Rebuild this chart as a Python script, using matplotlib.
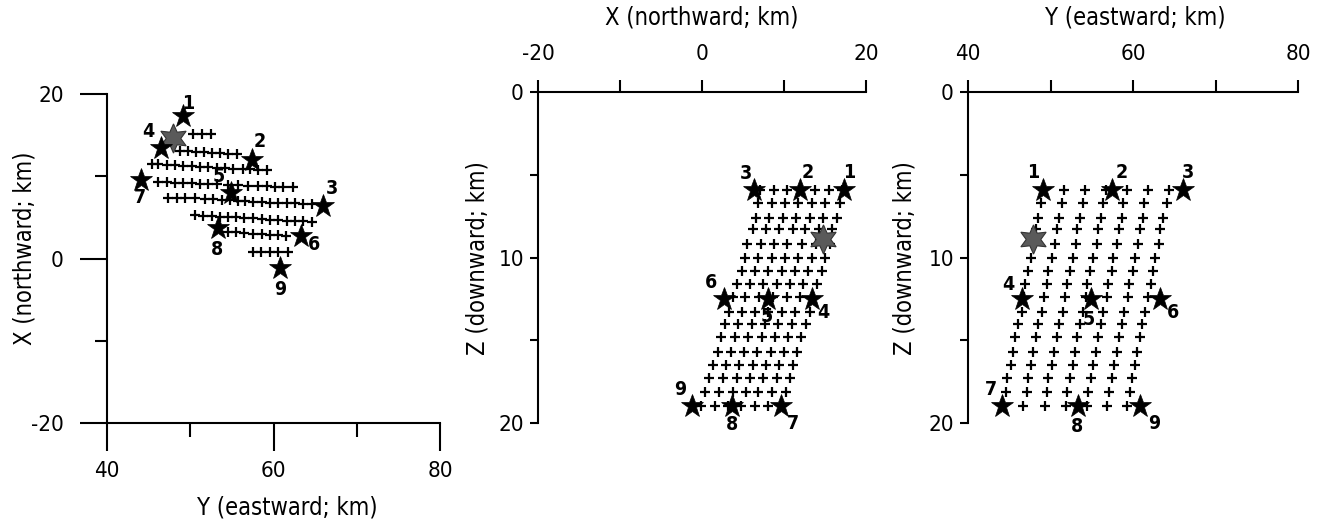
import matplotlib
matplotlib.use("Agg")
import matplotlib.pyplot as plt
from matplotlib import font_manager
from matplotlib.ticker import FixedLocator

# ---------------- data ----------------
star_ids = ["1", "2", "3", "4", "5", "6", "7", "8", "9"]
star_X = [17.3, 12.0, 6.4, 13.4, 8.0, 2.7, 9.6, 3.7, -1.2]     # northward km
star_Y = [49.1, 57.4, 66.0, 46.5, 54.9, 63.3, 44.1, 53.3, 60.8]  # eastward km
star_Z = [5.9, 5.9, 5.9, 12.5, 12.5, 12.5, 19.0, 19.0, 19.0]     # downward km

hypo_X = 14.7
hypo_Y = 47.9
hypo_Z = 8.9

# map-view crosses (Y, X) read line by line
map_cross_Y = [
    [50.3, 51.4, 52.5],
    [48.8, 49.7, 50.7, 51.6, 52.6, 53.6, 54.5, 55.6],
    [45.4, 46.1, 47.2, 48.2, 49.1, 50.2, 51.2, 52.1, 53.2, 54.2, 55.1, 56.3, 57.2, 58.1, 59.2],
    [46.1, 47.2, 48.2, 49.1, 50.2, 51.2, 52.1, 53.2, 54.5, 55.7, 56.9, 58.1, 59.2, 60.2, 61.1, 62.3],
    [47.3, 48.4, 49.4, 50.6, 51.8, 52.7, 53.8, 54.8, 55.7, 56.6, 57.5, 58.6, 59.6, 60.5, 61.6, 62.6, 63.5, 64.6],
    [50.6, 51.5, 52.6, 53.6, 54.5, 55.5, 56.4, 57.5, 58.6, 59.6, 60.5, 61.6, 62.6, 63.5, 64.6],
    [54.5, 55.5, 56.4, 57.5, 58.6, 59.6, 60.5, 61.5],
    [57.5, 58.5, 59.6, 60.6, 61.7],
]
map_cross_X = [
    [15.1, 15.1, 15.1],
    [13.1, 13.1, 12.9, 12.9, 12.8, 12.8, 12.7, 12.7],
    [11.5, 11.5, 11.4, 11.4, 11.2, 11.2, 11.1, 11.1, 11.0, 11.0, 10.9, 10.9, 10.9, 10.8, 10.8],
    [9.3, 9.3, 9.2, 9.2, 9.2, 9.1, 9.1, 9.1, 8.9, 8.9, 8.8, 8.8, 8.8, 8.7, 8.7, 8.7],
    [7.4, 7.4, 7.3, 7.3, 7.2, 7.2, 7.1, 7.1, 7.0, 7.0, 6.9, 6.9, 6.8, 6.8, 6.7, 6.7, 6.6, 6.6],
    [5.3, 5.2, 5.2, 5.1, 5.0, 5.0, 4.9, 4.9, 4.8, 4.7, 4.7, 4.6, 4.6, 4.5, 4.4],
    [3.2, 3.2, 3.1, 3.0, 3.0, 2.9, 2.8, 2.7],
    [0.8, 0.8, 0.8, 0.8, 0.8],
]

# cross-section grid: depth of each row
grid_Z = [5.9, 6.7, 7.6, 8.3, 9.2, 10.0, 10.8, 11.6, 12.4, 13.3, 14.0, 14.8, 15.7, 16.5, 17.3, 18.1, 19.0]
# X of each grid node (X-Z section)
grid_X = [
    [7.1, 8.8, 10.4, 12.1, 13.8, 15.5, 17.1],
    [6.8, 8.5, 10.1, 11.7, 13.4, 15.0, 16.8],
    [6.6, 8.2, 9.9, 11.5, 13.2, 14.8, 16.5],
    [6.2, 7.8, 9.4, 11.1, 12.6, 14.3, 15.9],
    [5.5, 7.2, 8.8, 10.4, 12.2, 13.9, 15.6],
    [5.2, 6.8, 8.5, 10.1, 11.7, 13.4, 15.0],
    [4.9, 6.5, 8.0, 9.8, 11.3, 12.9, 14.6],
    [4.3, 5.9, 7.4, 9.1, 10.7, 12.3, 14.0],
    [3.8, 5.2, 7.0, 8.7, 10.4, 12.0, 13.5],
    [3.3, 4.9, 6.5, 8.0, 9.8, 11.3, 13.2],
    [2.8, 4.4, 6.1, 7.7, 9.3, 11.0, 12.7],
    [2.3, 4.0, 5.6, 7.3, 8.9, 10.5, 12.1],
    [2.0, 3.5, 5.1, 6.7, 8.4, 10.0, 11.6],
    [1.3, 2.9, 4.5, 6.2, 7.8, 9.4, 11.1],
    [0.9, 2.6, 4.3, 5.9, 7.4, 9.1, 10.7],
    [0.4, 2.1, 3.8, 5.4, 6.8, 8.5, 10.2],
    [-0.1, 1.6, 3.2, 4.8, 6.5, 8.0, 9.8],
]
# Y of each grid node (Y-Z section)
grid_Y = [
    [49.1, 51.6, 54.2, 56.7, 59.3, 61.8, 64.4],
    [48.8, 51.4, 53.9, 56.4, 58.8, 61.3, 64.1],
    [48.5, 51.0, 53.6, 56.1, 58.7, 61.2, 63.6],
    [48.2, 50.8, 53.2, 55.8, 58.3, 60.8, 63.3],
    [48.0, 50.5, 53.1, 55.6, 58.1, 60.6, 63.1],
    [47.6, 50.2, 52.7, 55.2, 57.6, 60.2, 62.7],
    [47.3, 49.7, 52.4, 54.8, 57.5, 60.0, 62.4],
    [46.9, 49.6, 52.0, 54.4, 57.0, 59.5, 62.2],
    [46.8, 49.2, 51.8, 54.3, 56.8, 59.4, 61.8],
    [46.5, 49.0, 51.5, 53.9, 56.4, 58.9, 61.5],
    [46.1, 48.5, 51.0, 53.6, 56.1, 58.7, 61.1],
    [45.7, 48.2, 50.8, 53.2, 55.8, 58.3, 60.8],
    [45.5, 47.9, 50.4, 53.0, 55.5, 58.1, 60.5],
    [45.2, 47.6, 50.2, 52.7, 55.2, 57.7, 60.2],
    [44.7, 47.3, 49.7, 52.4, 54.9, 57.5, 59.9],
    [44.6, 47.2, 49.6, 52.0, 54.5, 57.1, 59.6],
    [44.2, 46.7, 49.3, 51.9, 54.4, 56.8, 59.3],
]

label_Y = "Y (eastward; km)"
label_X = "X (northward; km)"
label_Z = "Z (downward; km)"

# ---------------- style ----------------
plt.rcParams["axes.unicode_minus"] = False
entries = font_manager.fontManager.ttflist
names = {f.name for f in entries}
family, stretch = "DejaVu Sans", "normal"
for nm in ("Liberation Sans Narrow", "Arial Narrow"):
    if nm in names:
        family = nm
        break
else:
    cond = [(f.name, f.stretch) for f in entries
            if str(f.stretch) in ("condensed", "semi-condensed", "extra-condensed")]
    for pref in ("DejaVu Sans", "Noto Sans", "Open Sans", "Roboto", "Liberation Sans"):
        hit = [c for c in cond if c[0] == pref]
        if hit:
            family, stretch = hit[0]
            break
plt.rcParams["font.family"] = [family, "DejaVu Sans"]
plt.rcParams["font.stretch"] = stretch

DPI = 100
PT = 72.0 / DPI          # points per pixel
fig = plt.figure(figsize=(13.2, 5.23), dpi=DPI)
W, H = 1320.0, 523.0

LW = 1.5
TICK_FS = 16
LAB_FS = 17
NUM_FS = 14

def axes_px(x0, x1, y0, y1):
    return fig.add_axes([x0 / W, 1 - y1 / H, (x1 - x0) / W, (y1 - y0) / H])

def fig_text(x, y, s, rot=0):
    fig.text(x / W, 1 - y / H, s, ha="center", va="center", rotation=rot,
             fontsize=LAB_FS, color="black")

ax_map = axes_px(107, 440, 94, 423)
ax_xz = axes_px(538, 866, 92, 423)
ax_yz = axes_px(968, 1298, 92, 423)

def style(ax, xside, maj_x, min_x, maj_y, min_y, xlen, ylen, xpad, ypad):
    """lengths / pads given in pixels"""
    for s in ax.spines.values():
        s.set_visible(False)
    ax.spines["left"].set_visible(True)
    ax.spines[xside].set_visible(True)
    for s in ("left", xside):
        ax.spines[s].set_linewidth(LW)
    ax.xaxis.set_major_locator(FixedLocator(maj_x))
    ax.xaxis.set_minor_locator(FixedLocator(min_x))
    ax.yaxis.set_major_locator(FixedLocator(maj_y))
    ax.yaxis.set_minor_locator(FixedLocator(min_y))
    if xside == "top":
        ax.xaxis.tick_top()
    ax.tick_params(axis="x", which="major", direction="out", length=xlen[0] * PT, width=LW,
                   labelsize=TICK_FS, pad=xpad * PT)
    ax.tick_params(axis="x", which="minor", direction="out", length=xlen[1] * PT, width=LW)
    ax.tick_params(axis="y", which="major", direction="out", length=ylen[0] * PT, width=LW,
                   labelsize=TICK_FS, pad=ypad * PT)
    ax.tick_params(axis="y", which="minor", direction="out", length=ylen[1] * PT, width=LW)
    ax.set_facecolor("none")

def draw_crosses(ax, xs, ys):
    ax.plot(xs, ys, linestyle="none", marker="+", markersize=6.5, markeredgewidth=1.6,
            color="black", zorder=2, clip_on=False)

def draw_stars(ax, xs, ys, offsets):
    ax.plot(xs, ys, linestyle="none", marker="*", markersize=17, color="black",
            markeredgewidth=0.5, zorder=4, clip_on=False)
    for lab, x, y in zip(star_ids, xs, ys):
        dx, dy = offsets[lab]
        ax.annotate(lab, (x, y), xytext=(dx * PT, dy * PT), textcoords="offset points",
                    ha="center", va="center", fontsize=NUM_FS, fontweight="bold",
                    color="black", zorder=5, annotation_clip=False)

def draw_hypo(ax, x, y):
    ax.plot([x], [y], linestyle="none", marker=(6, 1, 0), markersize=21, color="#5a5a5a",
            markeredgecolor="#333333", markeredgewidth=0.8, zorder=3, clip_on=False)

# ---- map view ----
for ys, xs in zip(map_cross_Y, map_cross_X):
    draw_crosses(ax_map, ys, xs)
draw_hypo(ax_map, hypo_Y, hypo_X)
map_off = {"1": (5, 13), "2": (8, 18), "3": (8, 17), "4": (-13, 17), "5": (-12, 16),
           "6": (13, -8), "7": (-1, -18), "8": (-1, -21), "9": (0, -21)}
draw_stars(ax_map, star_Y, star_X, map_off)
ax_map.set_xlim(40, 80)
ax_map.set_ylim(-20, 20)
style(ax_map, "bottom", [40, 60, 80], [50, 70], [-20, 0, 20], [-10, 10],
      (28, 14), (27, 12), 10, 16)
fig_text(287, 507, label_Y)
fig_text(25, 248, label_X, rot=90)

# ---- X-Z section ----
for z, row in zip(grid_Z, grid_X):
    draw_crosses(ax_xz, row, [z] * len(row))
draw_hypo(ax_xz, hypo_X, hypo_Z)
xz_off = {"1": (5, 17), "2": (7, 17), "3": (-9, 16), "4": (11, -14), "5": (-1, -18),
          "6": (-13, 16), "7": (12, -17), "8": (0, -18), "9": (-12, 17)}
draw_stars(ax_xz, star_X, star_Z, xz_off)
ax_xz.set_xlim(-20, 20)
ax_xz.set_ylim(20, 0)
style(ax_xz, "top", [-20, 0, 20], [-10, 10], [0, 10, 20], [5, 15],
      (12, 12), (8, 8), 16, 6)
fig_text(702, 18, label_X)
fig_text(478, 258, label_Z, rot=90)

# ---- Y-Z section ----
for z, row in zip(grid_Z, grid_Y):
    draw_crosses(ax_yz, row, [z] * len(row))
draw_hypo(ax_yz, hypo_Y, hypo_Z)
yz_off = {"1": (-10, 17), "2": (10, 17), "3": (5, 17), "4": (-13, 14), "5": (-2, -21),
          "6": (13, -14), "7": (-11, 17), "8": (-1, -20), "9": (15, -17)}
draw_stars(ax_yz, star_Y, star_Z, yz_off)
ax_yz.set_xlim(40, 80)
ax_yz.set_ylim(20, 0)
style(ax_yz, "top", [40, 60, 80], [50, 70], [0, 10, 20], [5, 15],
      (12, 12), (8, 8), 16, 6)
fig_text(1135, 18, label_Y)
fig_text(905, 258, label_Z, rot=90)

fig.savefig("out.png", dpi=DPI, facecolor="white")
